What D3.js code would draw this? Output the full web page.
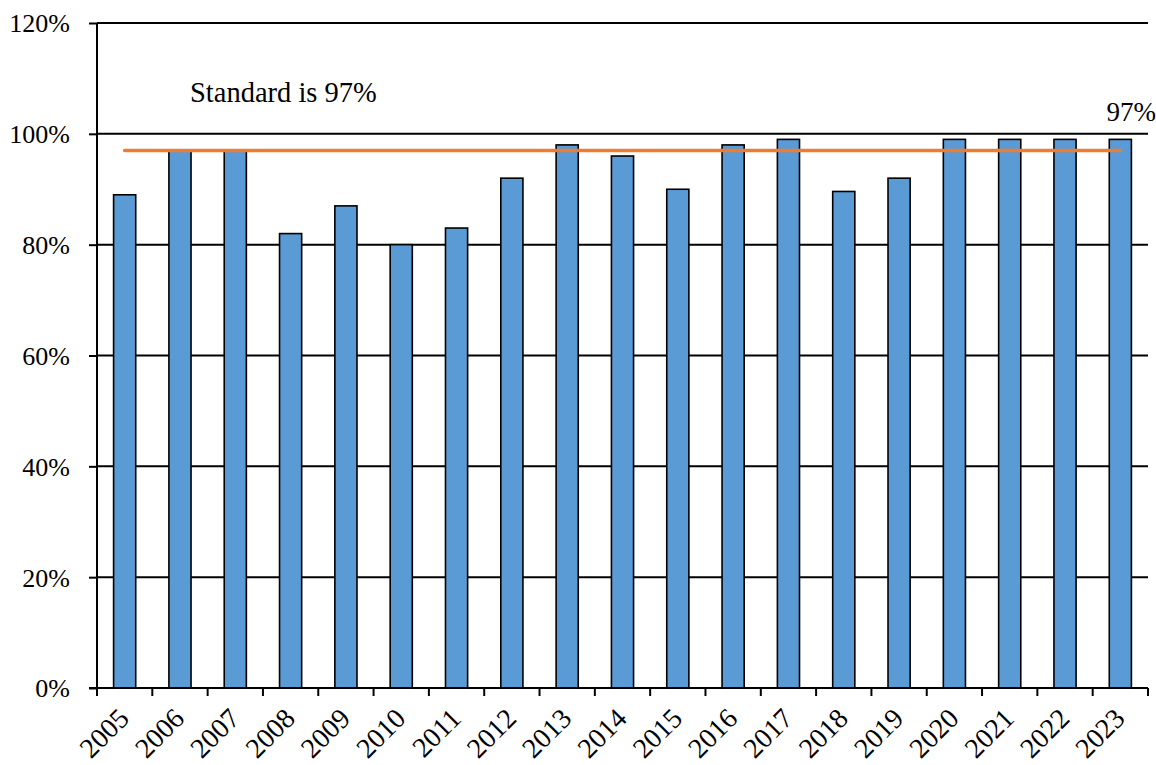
<!DOCTYPE html>
<html>
<head>
<meta charset="utf-8">
<script src="https://cdn.jsdelivr.net/npm/d3@7"></script>
<style>
  body { margin: 0; background: #fff; }
</style>
</head>
<body>
<svg id="chart"></svg>
<script>
// data
let years = ['2005','2006','2007','2008','2009','2010','2011','2012','2013','2014',
             '2015','2016','2017','2018','2019','2020','2021','2022','2023'];
let rates = [0.89, 0.97, 0.97, 0.82, 0.87, 0.80, 0.83, 0.92, 0.98, 0.96,
             0.90, 0.98, 0.99, 0.896, 0.92, 0.99, 0.99, 0.99, 0.99];
let standard = 0.97;
let yTicks = [0, 0.2, 0.4, 0.6, 0.8, 1.0, 1.2];

let w = 1156, h = 765;
let mLeft = 97, mRight = 1148, mTop = 23, mBottom = 688;
let serif = '"Liberation Serif", "Times New Roman", "DejaVu Serif", serif';

let svg = d3.select('#chart').attr('width', w).attr('height', h);

let xScale = d3.scaleBand()
  .domain(years)
  .range([mLeft, mRight])
  .paddingInner(0.6)
  .paddingOuter(0.3);

let yScale = d3.scaleLinear()
  .domain([0, 1.2])
  .range([mBottom, mTop]);

// gridlines
svg.append('g')
  .selectAll('line')
  .data(yTicks.slice(1))
  .enter()
  .append('line')
  .attr('x1', mLeft)
  .attr('x2', mRight)
  .attr('y1', (d) => yScale(d))
  .attr('y2', (d) => yScale(d))
  .attr('stroke', '#000')
  .attr('stroke-width', 2);

// bars
svg.append('g')
  .selectAll('rect')
  .data(rates)
  .enter()
  .append('rect')
  .attr('x', (d, i) => xScale(years[i]))
  .attr('y', (d) => yScale(d))
  .attr('width', xScale.bandwidth())
  .attr('height', (d) => mBottom - yScale(d))
  .attr('fill', '#5b9bd5')
  .attr('stroke', '#000')
  .attr('stroke-width', 1.6);

// standard line
let firstX = xScale(years[0]) + xScale.bandwidth() / 2;
let lastX = xScale(years[years.length - 1]) + xScale.bandwidth() / 2;
svg.append('line')
  .attr('x1', firstX)
  .attr('x2', lastX)
  .attr('y1', yScale(standard))
  .attr('y2', yScale(standard))
  .attr('stroke', '#ed7d31')
  .attr('stroke-width', 3.5)
  .attr('stroke-linecap', 'round');

// y axis
let yAxis = d3.axisLeft(yScale)
  .tickValues(yTicks)
  .tickFormat(d3.format('.0%'))
  .tickSize(8)
  .tickPadding(19);
let yAxisGroup = svg.append('g')
  .attr('transform', `translate(${mLeft}, 0)`)
  .call(yAxis)
  .attr('font-family', serif)
  .attr('font-size', 26);
yAxisGroup.select('.domain').attr('stroke-width', 2).attr('d', `M0,${mTop}V${mBottom}`);
yAxisGroup.selectAll('.tick line').attr('stroke-width', 2);
yAxisGroup.selectAll('text')
  .attr('fill', '#000')
  .attr('dy', '0.34em');

// x axis: ticks on category boundaries
let xAxisGroup = svg.append('g')
  .attr('font-family', serif)
  .attr('font-size', 28);
xAxisGroup.append('line')
  .attr('x1', mLeft - 8)
  .attr('x2', mRight)
  .attr('y1', mBottom)
  .attr('y2', mBottom)
  .attr('stroke', '#000')
  .attr('stroke-width', 2);

let step = xScale.step();
xAxisGroup.selectAll('.xt')
  .data(d3.range(years.length + 1))
  .enter()
  .append('line')
  .attr('class', 'xt')
  .attr('x1', (d) => mLeft + d * step)
  .attr('x2', (d) => mLeft + d * step)
  .attr('y1', mBottom)
  .attr('y2', mBottom + 8)
  .attr('stroke', '#000')
  .attr('stroke-width', 2);

xAxisGroup.selectAll('.xl')
  .data(years)
  .enter()
  .append('text')
  .attr('class', 'xl')
  .attr('transform', (d) => `translate(${xScale(d) + xScale.bandwidth() / 2 + 6}, ${mBottom + 32}) rotate(-45)`)
  .attr('text-anchor', 'end')
  .text((d) => d);

// annotations
svg.append('text')
  .attr('x', 190)
  .attr('y', 102)
  .attr('font-family', serif)
  .attr('font-size', 28.5)
  .text('Standard is 97%');

svg.append('text')
  .attr('x', 1156)
  .attr('y', 121)
  .attr('text-anchor', 'end')
  .attr('font-family', serif)
  .attr('font-size', 27)
  .text(d3.format('.0%')(standard));
</script>
</body>
</html>
